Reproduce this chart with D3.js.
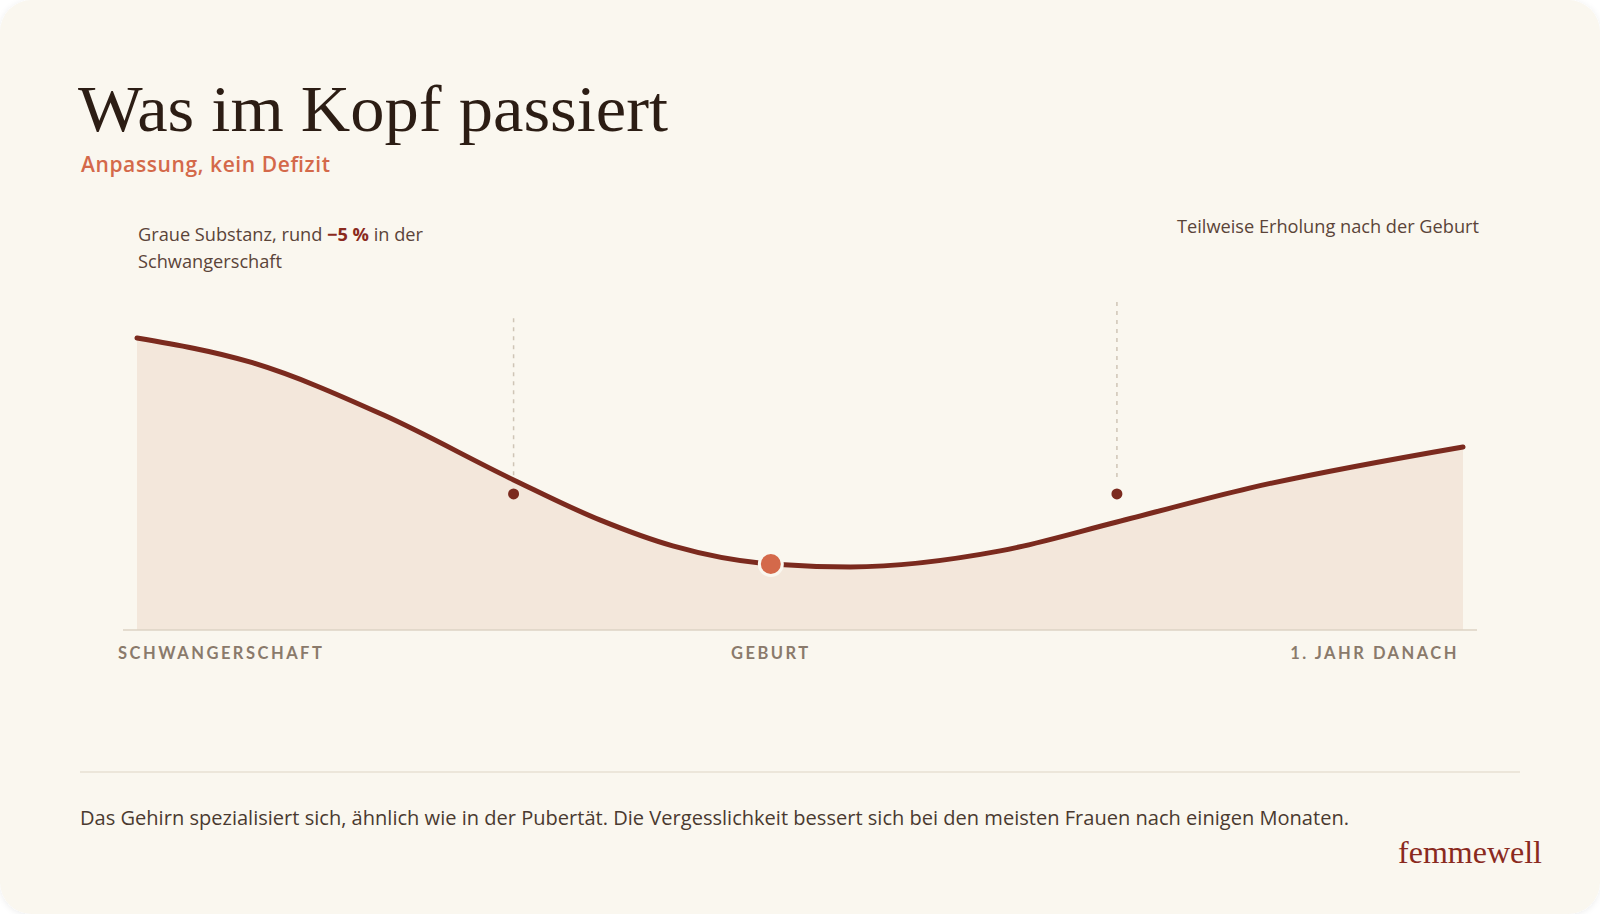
<!DOCTYPE html>
<html><head><meta charset="utf-8">
<script src="https://cdn.jsdelivr.net/npm/d3@7"></script>
<style>
html,body{margin:0;padding:0;background:#ffffff;}
svg{display:block;}
</style></head>
<body>
<svg id="c" width="1600" height="914"></svg>
<script>
// ---- data ----
const title = "Was im Kopf passiert";
const subtitle = "Anpassung, kein Defizit";
const phaseLabels = ["SCHWANGERSCHAFT", "GEBURT", "1. JAHR DANACH"];
const phasePos = [0, 47.8, 100];
const curveT = [0, 8.5, 18.6, 28.4, 34.9, 40.4, 47.8, 53.8, 65.1, 73.9, 83.9, 100];
const curveV = [100, 91.8, 73.6, 51.4, 37.7, 28.8, 22.6, 21.6, 27.1, 37.0, 48.6, 62.7];
const markerT = [28.4, 73.9];
const markerV = [46.6, 46.6];
const markerTop = [106.8, 112.3];
const birthT = 47.8, birthV = 22.6;
const footer = "Das Gehirn spezialisiert sich, ähnlich wie in der Pubertät. Die Vergesslichkeit bessert sich bei den meisten Frauen nach einigen Monaten.";
const brand = "femmewell";

const svg = d3.select("#c");
const W = 1600, H = 914;
const sans = "'Open Sans', 'Noto Sans', sans-serif";
const lab = "Lato, 'Open Sans', sans-serif";
const serif = "'Liberation Serif', 'DejaVu Serif', serif";

const defs = svg.append("defs");
const f = defs.append("filter").attr("id","sh").attr("x","-5%").attr("y","-5%").attr("width","110%").attr("height","110%");
f.append("feDropShadow").attr("dx",0).attr("dy",1).attr("stdDeviation",3).attr("flood-color","#000").attr("flood-opacity",0.08);

svg.append("rect").attr("x",0).attr("y",0).attr("width",W).attr("height",H)
  .attr("rx",32).attr("fill","#faf7ef").attr("filter","url(#sh)");

// title
svg.append("text").attr("x",78).attr("y",131)
  .attr("font-family",serif).attr("font-size",66).attr("fill","#2c1d14")
  .attr("textLength",590).attr("lengthAdjust","spacingAndGlyphs").text(title);

svg.append("text").attr("x",81).attr("y",172)
  .attr("font-family",sans).attr("font-size",21).attr("font-weight",600)
  .attr("fill","#d4694a").attr("textLength",249).attr("lengthAdjust","spacing").text(subtitle);

// scales
const x = d3.scaleLinear().domain([0,100]).range([137,1463]);
const y = d3.scaleLinear().domain([0,100]).range([630,338]);
const pts = curveT.map((d,i)=>({t:d, v:curveV[i]}));

const area = d3.area().x(d=>x(d.t)).y0(y(0)).y1(d=>y(d.v)).curve(d3.curveMonotoneX);
const line = d3.line().x(d=>x(d.t)).y(d=>y(d.v)).curve(d3.curveMonotoneX);

svg.append("path").datum(pts).attr("d",area).attr("fill","#f3e7db");

// baseline
svg.append("line").attr("x1",x(0)-14).attr("x2",x(100)+14).attr("y1",y(0)).attr("y2",y(0))
  .attr("stroke","#ddd3c5").attr("stroke-width",1.5);

// dashed guides
markerT.forEach((mt,i)=>{
  svg.append("line").attr("x1",x(mt)).attr("x2",x(mt))
    .attr("y1",y(markerTop[i])).attr("y2",y(markerV[i])-12)
    .attr("stroke","#cfc5b6").attr("stroke-width",1.5).attr("stroke-dasharray","4,5");
});

svg.append("path").datum(pts).attr("d",line).attr("fill","none")
  .attr("stroke","#7b2a1e").attr("stroke-width",5).attr("stroke-linecap","round");

markerT.forEach((mt,i)=>{
  svg.append("circle").attr("cx",x(mt)).attr("cy",y(markerV[i])).attr("r",5.5).attr("fill","#7b2a1e");
});

svg.append("circle").attr("cx",x(birthT)).attr("cy",y(birthV)).attr("r",11.5)
  .attr("fill","#d4694a").attr("stroke","#faf7ef").attr("stroke-width",3);

// annotations
const a1 = svg.append("text").attr("font-family",sans).attr("font-size",18.2).attr("fill","#5a4439");
a1.append("tspan").attr("x",138).attr("y",241).text("Graue Substanz, rund ");
a1.append("tspan").attr("font-weight",700).attr("fill","#8a2a1e").text("−5 %");
a1.append("tspan").text(" in der");
a1.append("tspan").attr("x",138).attr("y",268).text("Schwangerschaft");

svg.append("text").attr("x",1479).attr("y",233).attr("text-anchor","end")
  .attr("font-family",sans).attr("font-size",18.2).attr("fill","#5a4439")
  .text("Teilweise Erholung nach der Geburt");

// axis labels
const anchors = ["start","middle","end"];
const offs = [-19, 0, -4];
phaseLabels.forEach((l,i)=>{
  svg.append("text").attr("x",x(phasePos[i])+offs[i]).attr("y",659)
    .attr("text-anchor",anchors[i]).attr("font-family",lab).attr("font-size",16.5)
    .attr("font-weight",700).attr("letter-spacing",2.5).attr("fill","#8a7a6b").text(l);
});

// separator
svg.append("line").attr("x1",80).attr("x2",1520).attr("y1",772).attr("y2",772)
  .attr("stroke","#e7e0d3").attr("stroke-width",1.5);

svg.append("text").attr("x",80).attr("y",825)
  .attr("font-family",sans).attr("font-size",19.6).attr("fill","#4a3a30")
  .attr("textLength",1269).attr("lengthAdjust","spacingAndGlyphs").text(footer);

svg.append("text").attr("x",1542).attr("y",863).attr("text-anchor","end")
  .attr("font-family",serif).attr("font-size",32).attr("fill","#8a2a1e").text(brand);
</script>
</body></html>
